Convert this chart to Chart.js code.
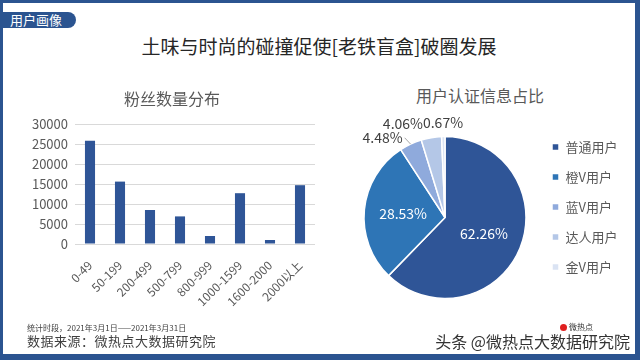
<!DOCTYPE html>
<html>
<head>
<meta charset="utf-8">
<script src="https://cdn.jsdelivr.net/npm/chart.js@4.4.1/dist/chart.umd.min.js"></script>
<style>
html, body { margin: 0; padding: 0; }
body { width: 640px; height: 360px; position: relative; overflow: hidden; background: #fff; font-family: "Noto Sans CJK SC", sans-serif; }
.frame { position: absolute; left: 0; top: 0; width: 640px; height: 360px; box-sizing: border-box; border-style: solid; border-color: #2b5490; border-width: 3px 5px 6px 3px; }
.tag { position: absolute; left: 0; top: 12px; width: 76px; height: 16px; background: #2b5490; border-radius: 0 8px 8px 0; color: #fff; font-size: 13px; line-height: 16px; padding-left: 10px; box-sizing: border-box; }
.title { position: absolute; left: 0; width: 638px; top: 33px; text-align: center; font-size: 19px; line-height: 26px; color: #262626; }
.subtitle { position: absolute; left: 380px; width: 200px; top: 84px; text-align: center; font-size: 16px; line-height: 22px; color: #595959; }
.note1 { position: absolute; left: 27px; top: 323px; font-size: 8px; line-height: 10px; color: #404040; }
.note2 { position: absolute; left: 27px; top: 332px; font-size: 13px; line-height: 17px; color: #404040; letter-spacing: 0.5px; }
.mark { position: absolute; right: 10px; top: 331px; font-size: 16px; line-height: 20px; color: #333; text-shadow: 0 0 2px #fff, 0 0 2px #fff; }
.logo { position: absolute; left: 560px; top: 322px; font-size: 8px; line-height: 10px; color: #333; }
.logo i { display: inline-block; width: 7px; height: 7px; border-radius: 50%; background: #e02020; margin-right: 2px; vertical-align: -1px; }
#fans { position: absolute; left: 0; top: 80px; }
#certs { position: absolute; left: 330px; top: 80px; }
</style>
</head>
<body>
<div class="frame"></div>
<div class="tag">用户画像</div>
<div class="title">土味与时尚的碰撞促使[老铁盲盒]破圈发展</div>
<canvas id="fans" width="330" height="245"></canvas>
<div class="subtitle">用户认证信息占比</div>
<canvas id="certs" width="305" height="245"></canvas>
<div class="note1">统计时段，2021年3月1日——2021年3月31日</div>
<div class="note2">数据来源：微热点大数据研究院</div>
<div class="logo"><i></i>微热点</div>
<div class="mark">头条 @微热点大数据研究院</div>
<script>
// fan count bins (left chart)
const fanBins = ['0-49', '50-199', '200-499', '500-799', '800-999', '1000-1599', '1600-2000', '2000以上'];
const fanCounts = [25800, 15600, 8500, 6900, 2000, 12700, 1000, 14700];

// user certification shares, % (right chart)
const certTypes = ['普通用户', '橙V用户', '蓝V用户', '达人用户', '金V用户'];
const certShares = [62.26, 28.53, 4.48, 4.06, 0.67];
const certColors = ['#2f5597', '#2e75b6', '#8faadc', '#b4c7e7', '#dae3f3'];

const FONT = '"Noto Sans CJK SC", sans-serif';
Chart.defaults.font.family = FONT;
Chart.defaults.color = '#595959';
Chart.defaults.animation = false;

new Chart(document.getElementById('fans'), {
  type: 'bar',
  data: {
    labels: fanBins,
    datasets: [{
      data: fanCounts,
      backgroundColor: '#2f5597',
      barPercentage: 0.8,
      categoryPercentage: 0.42
    }]
  },
  options: {
    responsive: false,
    layout: { padding: { left: 29, right: 15, top: 0, bottom: 0 } },
    plugins: {
      legend: { display: false },
      tooltip: { enabled: false },
      title: {
        display: true,
        text: '粉丝数量分布',
        color: '#595959',
        font: { size: 16, weight: 'normal' },
        padding: { top: 9.5, bottom: 15.3 }
      }
    },
    scales: {
      y: {
        min: 0,
        max: 30000,
        ticks: { stepSize: 5000, padding: 7, font: { size: 13 }, color: '#595959', callback: v => String(v) },
        grid: { color: '#d9d9d9', drawTicks: false },
        border: { display: false },
        afterFit(scale) { scale.width = 46; }
      },
      x: {
        ticks: { minRotation: 45, maxRotation: 45, padding: 6, font: { size: 12 }, color: '#595959' },
        grid: { display: false },
        border: { display: false },
        afterFit(scale) { scale.height = 81; }
      }
    }
  }
});

// percentage labels: big slices inside, small ones outside and pushed left
const pieLabels = {
  id: 'pieLabels',
  afterDatasetsDraw(chart) {
    const ctx = chart.ctx;
    const arcs = chart.getDatasetMeta(0).data;
    const placed = [];
    ctx.save();
    ctx.font = '14px ' + FONT;
    ctx.textBaseline = 'middle';
    for (let i = arcs.length - 1; i >= 0; i--) {
      const a = arcs[i];
      const r = a.outerRadius;
      const mid = (a.startAngle + a.endAngle) / 2;
      const dx = Math.cos(mid), dy = Math.sin(mid);
      const text = certShares[i].toFixed(2) + '%';
      const w = ctx.measureText(text).width;
      if (certShares[i] > 10) {
        ctx.fillStyle = '#fff';
        ctx.textAlign = 'center';
        ctx.fillText(text, a.x + dx * r * 0.52, a.y + dy * r * 0.52);
        continue;
      }
      let right, y;
      if (dx < -0.3) {
        const ex = a.x + dx * (r + 7);
        y = a.y + dy * (r + 7);
        ctx.strokeStyle = '#a6a6a6';
        ctx.lineWidth = 1;
        ctx.beginPath();
        ctx.moveTo(a.x + dx * r, a.y + dy * r);
        ctx.lineTo(ex - 3, y);
        ctx.stroke();
        right = ex - 5;
      } else {
        y = a.y + dy * (r + 14);
        right = a.x + dx * (r + 14) + w / 2;
      }
      const prev = placed[placed.length - 1];
      if (prev && Math.abs(prev.y - y) < 12 && right > prev.left) right = prev.left;
      ctx.fillStyle = '#404040';
      ctx.textAlign = 'right';
      ctx.fillText(text, right, y);
      placed.push({ left: right - w, y: y });
    }
    ctx.restore();
  }
};

new Chart(document.getElementById('certs'), {
  type: 'pie',
  data: {
    labels: certTypes,
    datasets: [{
      data: certShares,
      backgroundColor: certColors,
      borderColor: '#fff',
      borderWidth: 1.5,
      radius: 81
    }]
  },
  options: {
    responsive: false,
    layout: { padding: { left: 25, right: 7.5, top: 43.5, bottom: 13.5 } },
    plugins: {
      tooltip: { enabled: false },
      legend: {
        position: 'right',
        align: 'start',
        labels: { boxWidth: 7, boxHeight: 7, padding: 17, font: { size: 13 }, color: '#595959' }
      }
    }
  },
  plugins: [pieLabels]
});
</script>
</body>
</html>
